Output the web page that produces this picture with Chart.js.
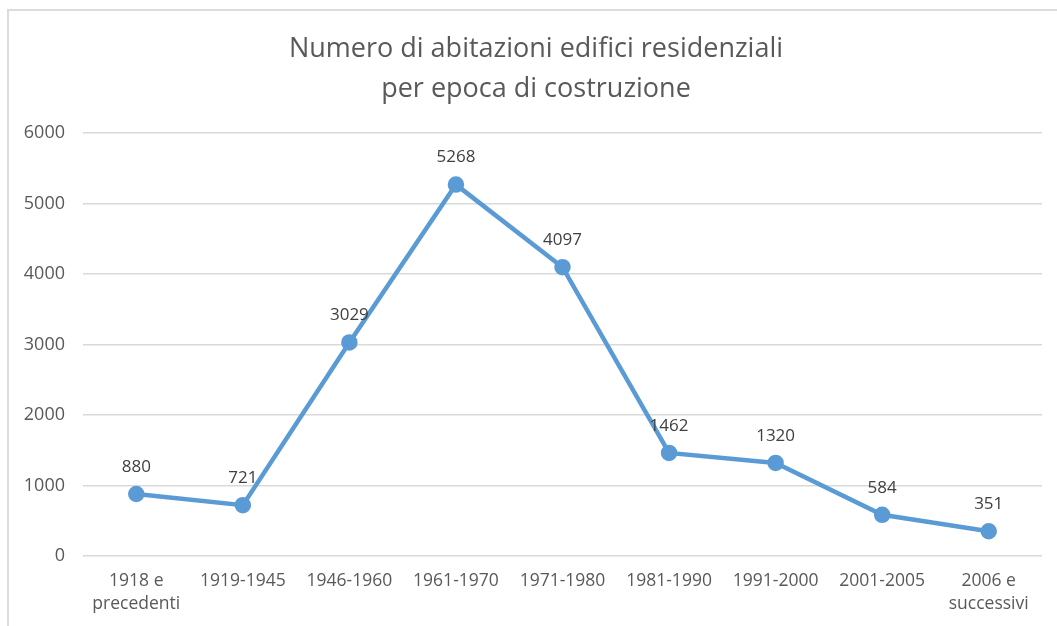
<!DOCTYPE html>
<html>
<head>
<meta charset="utf-8">
<script src="https://cdn.jsdelivr.net/npm/chart.js@4.4.1/dist/chart.umd.min.js"></script>
<style>
  html, body { margin: 0; padding: 0; background: #ffffff; }
  #wrap { position: relative; width: 1057px; height: 626px; overflow: hidden; }
  #frame { position: absolute; left: 7px; top: 9px; width: 1060px; height: 640px;
           border-left: 2px solid #dcdcdc; border-top: 2px solid #dcdcdc; box-sizing: border-box; }
  canvas { position: absolute; left: 0; top: 0; }
  #title { position: absolute; left: 236px; width: 600px; top: 27px; text-align: center;
           font-family: 'Open Sans', 'Noto Sans', sans-serif; font-size: 27px; line-height: 40px;
           color: #595959; white-space: nowrap; }
</style>
</head>
<body>
<div id="wrap">
  <div id="frame"></div>
  <canvas id="c" width="1057" height="626"></canvas>
  <div id="title"></div>
</div>
<script>
const categories = [
  ["1918 e", "precedenti"], "1919-1945", "1946-1960", "1961-1970", "1971-1980",
  "1981-1990", "1991-2000", "2001-2005", ["2006 e", "successivi"]
];
const abitazioni = [880, 721, 3029, 5268, 4097, 1462, 1320, 584, 351];
const titleLines = ["Numero di abitazioni edifici residenziali", "per epoca di costruzione"];
const yTicks = [0, 1000, 2000, 3000, 4000, 5000, 6000];

const FONT = "'Open Sans', 'Noto Sans', sans-serif";

const titleEl = document.getElementById('title');
titleLines.forEach(t => {
  const d = document.createElement('div');
  d.textContent = t;
  titleEl.appendChild(d);
});

const valueLabels = {
  id: 'valueLabels',
  afterDatasetsDraw(chart) {
    const ctx = chart.ctx;
    const meta = chart.getDatasetMeta(0);
    ctx.save();
    ctx.font = "17px " + FONT;
    ctx.fillStyle = "#404040";
    ctx.textAlign = "center";
    ctx.textBaseline = "middle";
    meta.data.forEach((pt, i) => {
      ctx.fillText(String(abitazioni[i]), pt.x, pt.y - 27);
    });
    ctx.restore();
  }
};

new Chart(document.getElementById('c'), {
  type: 'line',
  data: {
    labels: categories,
    datasets: [{
      data: abitazioni,
      borderColor: '#5b9bd5',
      backgroundColor: '#5b9bd5',
      borderWidth: 4.5,
      pointRadius: 6,
      pointHoverRadius: 6,
      pointBackgroundColor: '#5b9bd5',
      pointBorderColor: '#5b9bd5',
      tension: 0,
      fill: false
    }]
  },
  options: {
    responsive: false,
    animation: false,
    layout: { padding: { left: 8, right: 15, top: 133, bottom: 0 } },
    plugins: {
      legend: { display: false },
      tooltip: { enabled: false },
      title: { display: false }
    },
    scales: {
      x: {
        offset: true,
        grid: { display: false, drawTicks: false, offset: true },
        border: { display: false },
        ticks: {
          color: '#595959',
          font: { family: FONT, size: 17.5, lineHeight: 1.3 },
          padding: 14,
          maxRotation: 0,
          autoSkip: false
        },
        afterFit(s) { s.height = 70; }
      },
      y: {
        min: 0,
        max: 6000,
        afterBuildTicks(s) { s.ticks = yTicks.map(v => ({ value: v })); },
        grid: { color: '#d9d9d9', lineWidth: 1.5, drawTicks: false },
        border: { display: false },
        ticks: {
          color: '#595959',
          font: { family: FONT, size: 18 },
          padding: 18,
          callback: (v) => String(v)
        },
        afterFit(s) { s.width = 75; }
      }
    }
  },
  plugins: [valueLabels]
});
</script>
</body>
</html>
